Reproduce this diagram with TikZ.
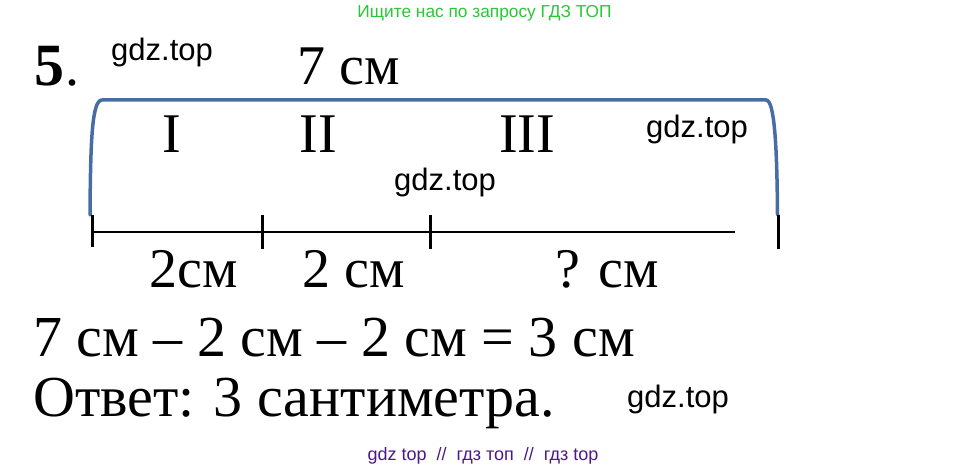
\documentclass[tikz,border=0pt]{standalone}
\usepackage{fontspec}
\newfontfamily\timesfont{Liberation Serif}
\newfontfamily\wmfont{Liberation Sans}
\definecolor{bannergreen}{RGB}{40,200,50}
\definecolor{footpurple}{RGB}{75,25,135}
\definecolor{bracketblue}{RGB}{70,110,165}
\tikzset{
  tim/.style={font=\timesfont\fontsize{56}{60}\selectfont, inner sep=0pt, anchor=base west},
  timbig/.style={tim, font=\timesfont\fontsize{58}{62}\selectfont},
  timc/.style={tim, anchor=base},
  wm/.style={font=\wmfont\fontsize{31}{33}\selectfont, inner sep=0pt, anchor=base west},
  bracketline/.style={draw=bracketblue, line width=3.5pt, line cap=round, line join=round},
  tickline/.style={draw=black, line width=3pt},
  segline/.style={draw=black, line width=2.5pt}
}
\begin{document}
\begin{tikzpicture}[x=1pt,y=-1pt]
\useasboundingbox (0,0) rectangle (967,470);
% banner and footer
\node[inner sep=0pt, anchor=base, text=bannergreen, font=\wmfont\fontsize{17.3}{19}\selectfont] (banner) at (484.5,18) {Ищите нас по запросу ГДЗ ТОП};
\node[inner sep=0pt, anchor=base, text=footpurple, font=\wmfont\fontsize{18}{20}\selectfont] (footer) at (483,460) {gdz top\ \ //\ \ гдз топ\ \ //\ \ гдз top};
% heading
\node[tim, font=\timesfont\bfseries\fontsize{60}{64}\selectfont] (num) at (34,86) {5};
\node[tim] (numdot) at (65,86) {.};
\node[tim] (total) at (297,85) {7 см};
% bracket
\coordinate (bl) at (90,215);
\coordinate (br) at (777.5,215);
\draw[bracketline] (bl) .. controls (90.5,140) and (92,100) .. (102,100) -- (766,100) .. controls (774,100) and (777,140) .. (br);
% part labels
\node[timc] (p1) at (172,153) {I};
\node[timc] (p2) at (318,153) {II};
\node[timc] (p3) at (527,153) {III};
% segment line and ticks
\coordinate (t1) at (92,232);
\coordinate (t2) at (262,232);
\coordinate (t3) at (430,232);
\coordinate (t4) at (778,232);
\coordinate (lend) at (735,232);
\draw[segline] (t1) -- (lend);
\draw[tickline] ([yshift=-15pt]t1) -- ([yshift=17pt]t1);
\draw[tickline] ([yshift=-17pt]t2) -- ([yshift=17pt]t2);
\draw[tickline] ([yshift=-17pt]t3) -- ([yshift=17pt]t3);
\draw[tickline] ([yshift=-17pt]t4) -- ([yshift=17pt]t4);
% segment labels
\node[tim] (s1) at (149,288) {2см};
\node[tim] (s2) at (302,288) {2 см};
\node[tim] (s3) at (555,288) {? см};
% solution
\node[timbig] (eq) at (33,356) {7 см – 2 см – 2 см = 3 см};
\node[timbig] (ans) at (33,416) {Ответ: 3 сантиметра.};
% watermarks
\node[wm] (w1) at (111,61) {gdz.top};
\node[wm] (w2) at (646,138) {gdz.top};
\node[wm] (w3) at (394,191) {gdz.top};
\node[wm] (w4) at (627,407) {gdz.top};
\end{tikzpicture}
\end{document}
